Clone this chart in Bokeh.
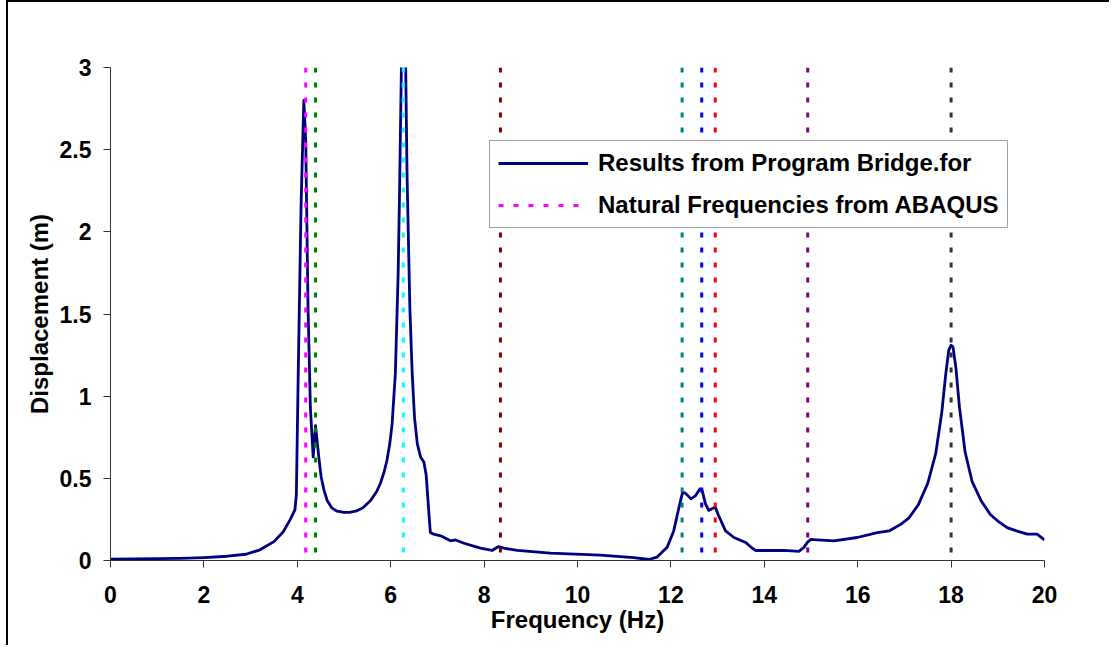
from bokeh.plotting import figure
from bokeh.models import Range1d, FixedTicker, Legend, LegendItem, NumeralTickFormatter
from bokeh.embed import file_html
from bokeh.resources import INLINE

# ---- data ----
freq = [0, 0.5, 1.0, 1.5, 2.0, 2.5, 2.9, 3.2, 3.5, 3.7, 3.85, 3.95, 3.98, 4.02, 4.08,
        4.14, 4.18, 4.23, 4.28, 4.34, 4.39, 4.46, 4.51, 4.57, 4.64, 4.74, 4.85, 5.0,
        5.12, 5.25, 5.4, 5.57, 5.7, 5.78, 5.86, 5.92, 5.98, 6.03, 6.10, 6.16, 6.19,
        6.23, 6.32, 6.35, 6.41, 6.46, 6.51, 6.57, 6.64, 6.71, 6.76, 6.82, 6.85, 6.92,
        7.07, 7.28, 7.39, 7.57, 7.92, 8.17, 8.31, 8.42, 8.71, 9.42, 10.49, 11.2, 11.53,
        11.7, 11.92, 12.06, 12.17, 12.25, 12.31, 12.43, 12.53, 12.62, 12.67, 12.74,
        12.81, 12.88, 12.95, 13.02, 13.17, 13.35, 13.6, 13.7, 13.81, 14.13, 14.42,
        14.74, 14.85, 14.92, 15.0, 15.13, 15.49, 15.99, 16.42, 16.67, 16.92, 17.1,
        17.3, 17.5, 17.67, 17.8, 17.88, 17.95, 18.0, 18.04, 18.1, 18.18, 18.3, 18.45,
        18.65, 18.84, 19.0, 19.2, 19.4, 19.63, 19.84, 20.0]
displacement = [0.008, 0.009, 0.011, 0.013, 0.018, 0.026, 0.038, 0.065, 0.115, 0.175,
                0.25, 0.31, 0.40, 1.14, 2.15, 2.8, 2.56, 1.54, 0.93, 0.63, 0.82, 0.63,
                0.51, 0.43, 0.365, 0.32, 0.30, 0.293, 0.293, 0.30, 0.32, 0.365, 0.42,
                0.47, 0.54, 0.61, 0.71, 0.83, 1.14, 1.75, 2.25, 3.02, 3.02, 2.35, 1.54,
                1.14, 0.87, 0.71, 0.63, 0.60, 0.52, 0.28, 0.17, 0.16, 0.15, 0.12, 0.125,
                0.105, 0.075, 0.061, 0.085, 0.075, 0.061, 0.045, 0.033, 0.017, 0.006,
                0.02, 0.08, 0.18, 0.32, 0.415, 0.41, 0.375, 0.395, 0.435, 0.425, 0.345,
                0.305, 0.315, 0.325, 0.274, 0.18, 0.14, 0.11, 0.085, 0.061, 0.061,
                0.061, 0.055, 0.08, 0.11, 0.128, 0.126, 0.12, 0.14, 0.17, 0.18, 0.22,
                0.26, 0.34, 0.47, 0.65, 0.9, 1.12, 1.28, 1.31, 1.30, 1.18, 0.93, 0.66,
                0.48, 0.36, 0.28, 0.24, 0.20, 0.18, 0.16, 0.16, 0.125]

natural_freqs = [4.18, 4.39, 6.27, 8.35, 12.24, 12.66, 12.95, 14.93, 18.0]
natural_colors = ["#FF00FF", "#008000", "#00FFFF", "#800000", "#008080",
                  "#0000FF", "#FF0000", "#800080", "#333333"]
nf_top = [3.0] * len(natural_freqs)
nf_bottom = [0.0] * len(natural_freqs)

x_ticks = [0, 2, 4, 6, 8, 10, 12, 14, 16, 18, 20]
y_ticks = [0, 0.5, 1, 1.5, 2, 2.5, 3]

FONT = "Liberation Sans"

p = figure(width=1103, height=645, x_range=Range1d(0, 20), y_range=Range1d(0, 3),
           output_backend="svg", toolbar_location=None,
           min_border_left=102, min_border_right=67, min_border_top=65, min_border_bottom=87)
p.styles = {"border-left": "2px solid black", "border-top": "2px solid black",
            "margin-left": "6px"}
p.background_fill_color = "white"
p.border_fill_color = "white"
p.outline_line_color = None
p.xgrid.visible = False
p.ygrid.visible = False

curve = p.line(freq, displacement, line_color="#000080", line_width=2.8, line_join="round")
seg = p.segment(x0=natural_freqs, y0=nf_top, x1=natural_freqs, y1=nf_bottom,
                line_color=natural_colors, line_width=3, line_dash="5 10")

for ax in (p.xaxis, p.yaxis):
    ax.axis_line_color = "#333333"
    ax.axis_line_width = 1
    ax.major_tick_line_color = "#333333"
    ax.major_tick_in = 0
    ax.major_tick_out = 7
    ax.minor_tick_line_color = None
    ax.major_label_text_font = FONT
    ax.major_label_text_font_style = "bold"
    ax.major_label_text_font_size = "23px"
    ax.major_label_text_color = "black"
    ax.axis_label_text_font = FONT
    ax.axis_label_text_font_style = "bold"
    ax.axis_label_text_font_size = "24px"
    ax.axis_label_text_color = "black"

p.xaxis.ticker = FixedTicker(ticks=x_ticks)
p.yaxis.ticker = FixedTicker(ticks=y_ticks)
p.yaxis.formatter = NumeralTickFormatter(format="0.[0]")
p.xaxis.major_label_standoff = 18
p.yaxis.major_label_standoff = 12
p.xaxis.axis_label = "Frequency (Hz)"
p.yaxis.axis_label = "Displacement (m)"
p.xaxis.axis_label_standoff = 0
p.yaxis.axis_label_standoff = 4

legend = Legend(items=[LegendItem(label="Results from Program Bridge.for", renderers=[curve]),
                       LegendItem(label="Natural Frequencies from ABAQUS", renderers=[seg], index=0)],
                location=(379, 332))
legend.label_text_font = FONT
legend.label_text_font_style = "bold"
legend.label_text_font_size = "24px"
legend.label_text_color = "black"
legend.glyph_width = 90
legend.glyph_height = 20
legend.label_height = 20
legend.label_standoff = 10
legend.spacing = 14
legend.padding = 8
legend.margin = 0
legend.border_line_color = "#444444"
legend.border_line_width = 1
legend.background_fill_color = "white"
legend.background_fill_alpha = 1
p.add_layout(legend)

open("out.html", "w").write(file_html(p, INLINE))
